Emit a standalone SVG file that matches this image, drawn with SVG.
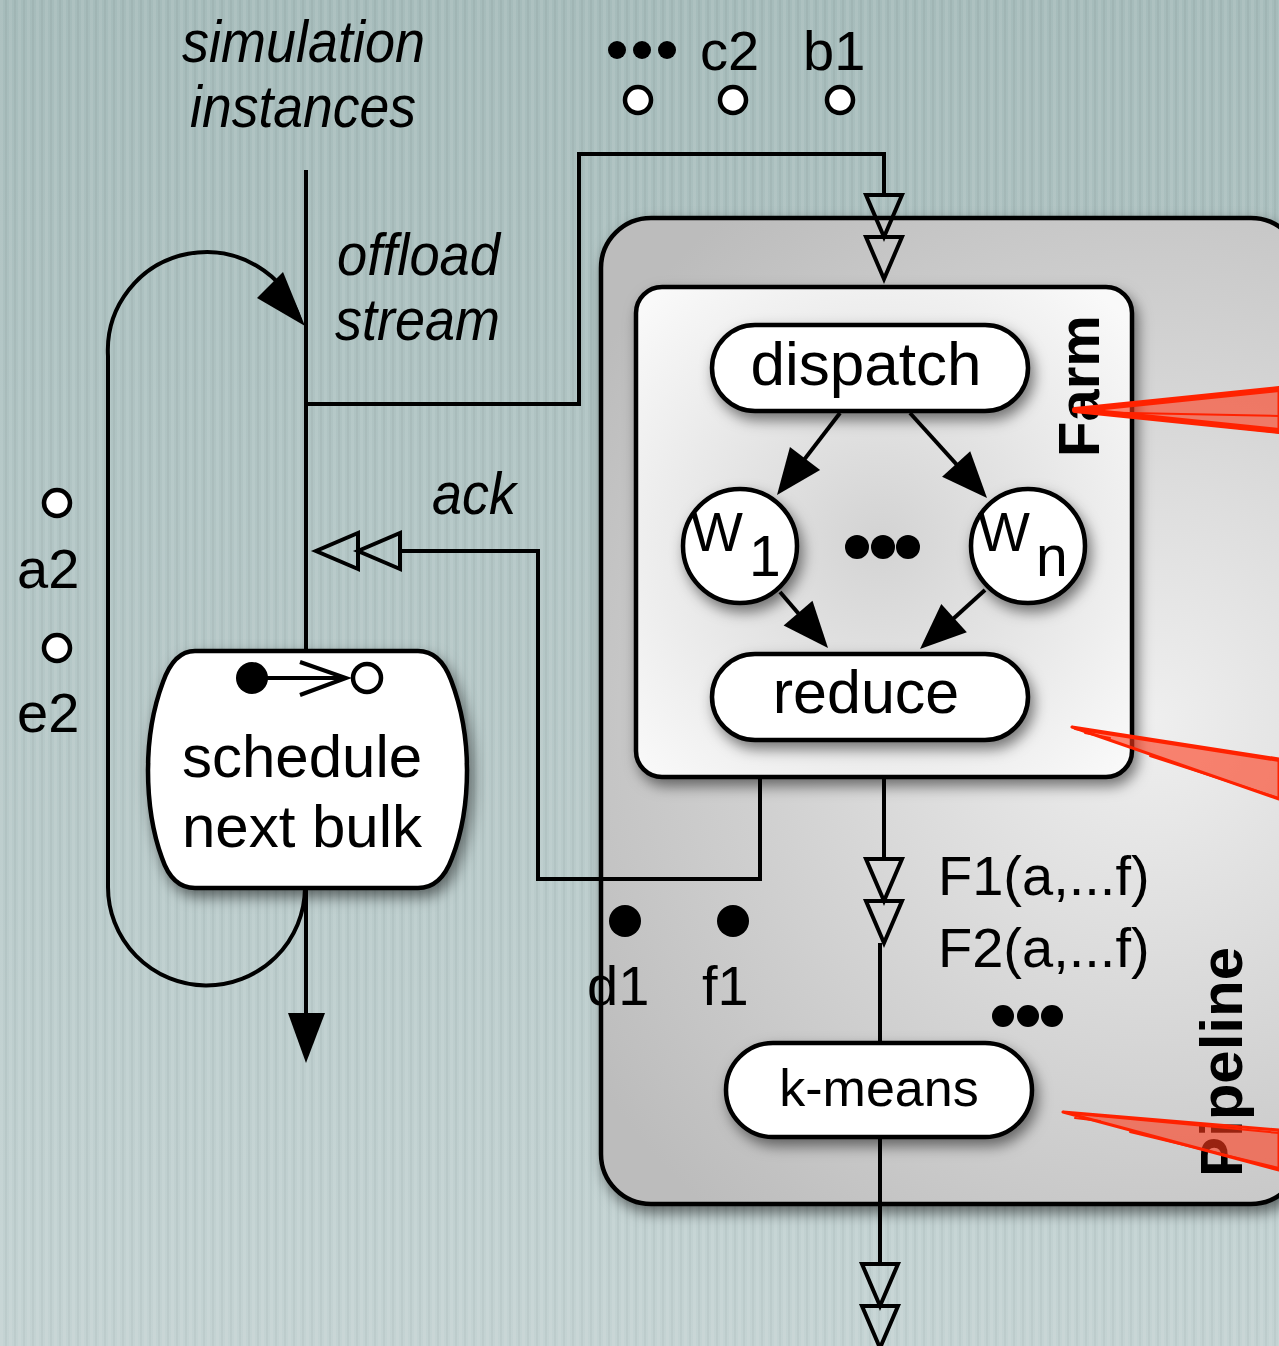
<svg xmlns="http://www.w3.org/2000/svg" width="1279" height="1346" viewBox="0 0 1279 1346">
<defs>
<style>
.ln{fill:none;stroke:#000;stroke-width:4;stroke-linejoin:miter;}
.node{fill:#fff;stroke:#000;stroke-width:4.5;}
.t{font-family:"Liberation Sans",Arial,Helvetica,sans-serif;fill:#000;}
.it{font-family:"Liberation Sans",Arial,Helvetica,sans-serif;font-style:italic;fill:#000;font-size:60px;}
.b{font-family:"Liberation Sans",Arial,Helvetica,sans-serif;font-weight:bold;fill:#000;}
.open{fill:#fff;stroke:#000;stroke-width:4.5;}
.red{fill:#ff3a1a;fill-opacity:0.6;stroke:#ff2200;stroke-width:3;stroke-linejoin:round;}
.redln{fill:none;stroke:#ff2200;stroke-linecap:round;}
</style>
<linearGradient id="bg" x1="0" y1="0" x2="0" y2="1">
<stop offset="0" stop-color="#a6bcbb"/><stop offset="1" stop-color="#c4d3d3"/>
</linearGradient>
<pattern id="stripes" width="9" height="10" patternUnits="userSpaceOnUse">
<rect x="0" y="0" width="3" height="10" fill="#ffffff" fill-opacity="0.08"/>
<rect x="5" y="0" width="2" height="10" fill="#000000" fill-opacity="0.035"/>
</pattern>
<radialGradient id="pipe" gradientUnits="userSpaceOnUse" cx="1150" cy="720" r="660">
<stop offset="0" stop-color="#efefef"/><stop offset="1" stop-color="#bcbcbc"/>
</radialGradient>
<radialGradient id="farm" gradientUnits="userSpaceOnUse" cx="880" cy="540" r="330">
<stop offset="0" stop-color="#d3d3d3"/><stop offset="1" stop-color="#f9f9f9"/>
</radialGradient>
<filter id="sh" x="-20%" y="-20%" width="150%" height="150%">
<feDropShadow dx="4" dy="7" stdDeviation="7" flood-color="#000" flood-opacity="0.5"/>
</filter>
<marker id="solid" viewBox="0 0 46 38" refX="36" refY="19" markerWidth="46" markerHeight="38" markerUnits="userSpaceOnUse" orient="auto" overflow="visible">
<path d="M0,0 L46,19 L0,38 Z" fill="#000"/>
</marker>
<marker id="dbl" viewBox="-3 -21 90 42" refX="0" refY="0" markerWidth="90" markerHeight="42" markerUnits="userSpaceOnUse" orient="auto" overflow="visible">
<path d="M0,-18 L42,0 L0,18 Z M42,-18 L84,0 L42,18 Z" fill="none" stroke="#000" stroke-width="4"/>
</marker>
</defs>

<rect width="1279" height="1346" fill="url(#bg)"/>
<rect width="1279" height="1346" fill="url(#stripes)"/>

<g id="pipeline">
<rect x="601" y="218" width="700" height="986" rx="50" fill="url(#pipe)" stroke="#000" stroke-width="4.5" filter="url(#sh)"/>
<text class="b" font-size="60" transform="translate(1242,1062) rotate(-90)" text-anchor="middle">Pipeline</text>
</g>

<g id="farm">
<rect x="636" y="287" width="496" height="490" rx="26" fill="url(#farm)" stroke="#000" stroke-width="4.5" filter="url(#sh)"/>
<text class="b" font-size="58" transform="translate(1099,386) rotate(-90)" text-anchor="middle">Farm</text>
</g>

<g id="connectors">
<path class="ln" d="M306,170 L306,651"/>
<path class="ln" d="M306,888 L306,1015"/>
<polygon points="288,1013 325,1013 306,1063" fill="#000"/>
<path class="ln" d="M305,888 A98,98 0 0 1 108,886 L108,356 A98.5,98.5 0 0 1 300,320"/>
<polygon points="305,326 257,298 283,272" fill="#000"/>
<path class="ln" d="M306,404 L579,404 L579,154 L884,154 L884,195" marker-end="url(#dbl)"/>
<path class="ln" d="M760,777 L760,879 L538,879 L538,551 L400,551" marker-end="url(#dbl)"/>
<path class="ln" d="M884,777 L884,859" marker-end="url(#dbl)"/>
<path class="ln" d="M880,943 L880,1043"/>
<path class="ln" d="M880,1137 L880,1264" marker-end="url(#dbl)"/>
<path class="ln" d="M840,413 L783.1,487.1" marker-end="url(#solid)"/>
<path class="ln" d="M910,413 L980.3,490.6" marker-end="url(#solid)"/>
<path class="ln" d="M780,592 L821.5,640.4" marker-end="url(#solid)"/>
<path class="ln" d="M985,590 L927.4,642.3" marker-end="url(#solid)"/>
</g>

<g id="dispatch">
<rect class="node" x="712" y="325" width="316" height="86" rx="43" filter="url(#sh)"/>
<text class="t" font-size="62" x="866" y="385" text-anchor="middle">dispatch</text>
</g>

<g id="w1">
<circle class="node" cx="740" cy="546" r="57" filter="url(#sh)"/>
<text class="t" font-size="55" x="691" y="551">W</text>
<text class="t" font-size="57" x="749" y="576">1</text>
</g>

<g id="wdots">
<circle cx="857" cy="547" r="12"/>
<circle cx="883" cy="547" r="12"/>
<circle cx="908" cy="547" r="12"/>
</g>

<g id="wn">
<circle class="node" cx="1028" cy="546" r="57" filter="url(#sh)"/>
<text class="t" font-size="55" x="978" y="551">W</text>
<text class="t" font-size="57" x="1036" y="576">n</text>
</g>

<g id="reduce">
<rect class="node" x="712" y="654" width="316" height="86" rx="43" filter="url(#sh)"/>
<text class="t" font-size="61" x="866" y="713" text-anchor="middle">reduce</text>
</g>

<g id="kmeans">
<rect class="node" x="726" y="1043" width="306" height="94" rx="47" filter="url(#sh)"/>
<text class="t" font-size="52" x="879" y="1106" text-anchor="middle">k-means</text>
</g>

<g id="schedule">
<path class="node" filter="url(#sh)" d="M195,651 L418,651 Q440,651 451,680 Q467,722 467,770 Q467,820 452,858 Q441,888 418,888 L195,888 Q172,888 162,858 Q148,820 148,770 Q148,722 163,682 Q174,651 195,651 Z"/>
<circle cx="252" cy="678" r="16"/>
<path class="ln" d="M252,678 L346,678 M300,662 L346,678 L300,695"/>
<circle class="open" cx="367" cy="678" r="14" stroke-width="4"/>
<text class="t" font-size="60" x="302" y="777" text-anchor="middle">schedule</text>
<text class="t" font-size="60" x="302" y="847" text-anchor="middle">next bulk</text>
</g>

<g id="labels">
<text class="it" x="182" y="62" textLength="243" lengthAdjust="spacingAndGlyphs">simulation</text>
<text class="it" x="190" y="127" textLength="226" lengthAdjust="spacingAndGlyphs">instances</text>
<text class="it" x="337" y="275" textLength="163" lengthAdjust="spacingAndGlyphs">offload</text>
<text class="it" x="335" y="340" textLength="165" lengthAdjust="spacingAndGlyphs">stream</text>
<text class="it" x="432" y="514" textLength="84" lengthAdjust="spacingAndGlyphs">ack</text>
</g>

<g id="tokens-top">
<circle cx="617" cy="50" r="9"/>
<circle cx="642" cy="50" r="9"/>
<circle cx="667" cy="50" r="9"/>
<text class="t" font-size="56" x="700" y="70">c2</text>
<text class="t" font-size="56" x="803" y="70">b1</text>
<circle class="open" cx="638" cy="100" r="13"/>
<circle class="open" cx="733" cy="100" r="13"/>
<circle class="open" cx="840" cy="100" r="13"/>
</g>

<g id="tokens-left">
<circle class="open" cx="57" cy="503" r="13"/>
<text class="t" font-size="56" x="17" y="588">a2</text>
<circle class="open" cx="57" cy="648" r="13"/>
<text class="t" font-size="56" x="17" y="732">e2</text>
</g>

<g id="tokens-done">
<circle cx="625" cy="921" r="16"/>
<circle cx="733" cy="921" r="16"/>
<text class="t" font-size="56" x="587" y="1005">d1</text>
<text class="t" font-size="56" x="702" y="1005">f1</text>
</g>

<g id="results">
<text class="t" font-size="56" x="938" y="895">F1(a,...f)</text>
<text class="t" font-size="56" x="938" y="967">F2(a,...f)</text>
<circle cx="1003" cy="1016" r="11"/>
<circle cx="1028" cy="1016" r="11"/>
<circle cx="1052" cy="1016" r="11"/>
</g>

<g id="pointers">
<polygon class="red" points="1075,410 1279,389 1279,432"/>
<path class="redln" stroke-width="6" d="M1075,410 L1279,389 M1075,410 L1279,431"/>
<path class="redln" stroke-width="2" d="M1078,412 L1279,416"/>
<polygon class="red" points="1072,727 1279,759 1279,799"/>
<path class="redln" stroke-width="2" d="M1075,729 L1279,761 M1150,756 L1279,798 M1085,733 L1110,738"/>
<polygon class="red" points="1063,1112 1279,1130 1279,1170"/>
<path class="redln" stroke-width="2" d="M1066,1113 L1279,1133 M1130,1132 L1279,1168 M1075,1118 L1100,1121"/>
</g>
</svg>
